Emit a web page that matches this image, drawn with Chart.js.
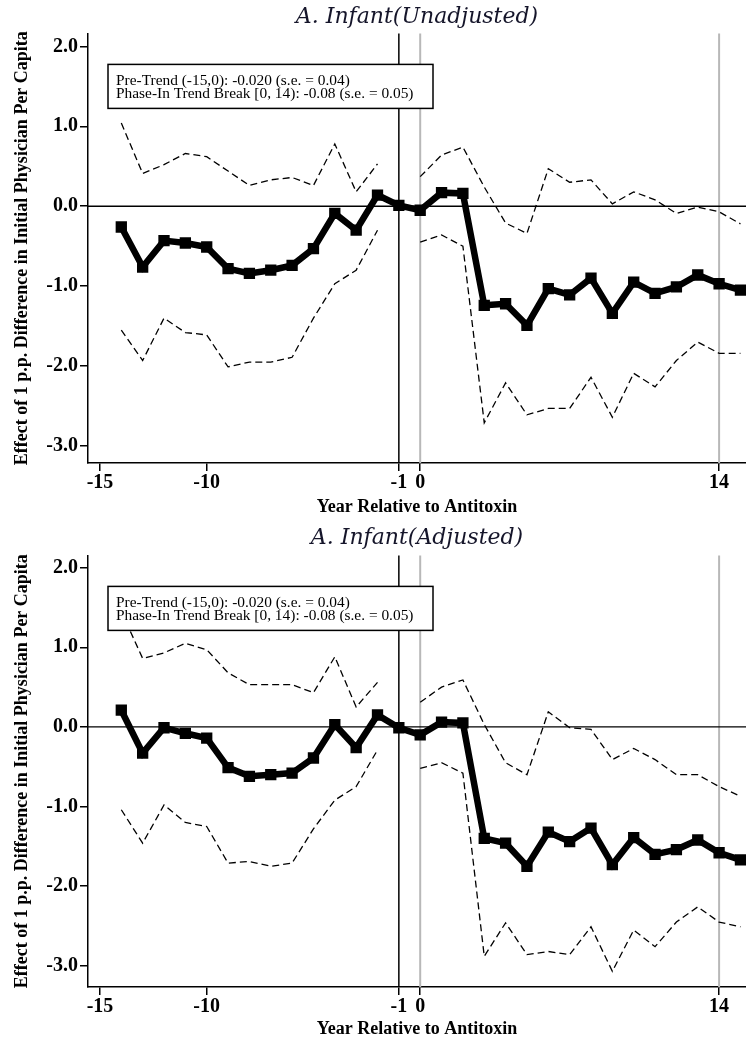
<!DOCTYPE html>
<html>
<head>
<meta charset="utf-8">
<title>Infant event study</title>
<script src="https://cdn.jsdelivr.net/npm/chart.js@4.4.1/dist/chart.umd.min.js"></script>
<style>
  body { margin: 0; background: #fff; }
  canvas { display: block; }
</style>
</head>
<body>
<canvas id="chartTop" width="746" height="520"></canvas>
<canvas id="chartBottom" width="746" height="520"></canvas>
<script>
// Years relative to antitoxin (x values of every series)
const years = [-14, -13, -12, -11, -10, -9, -8, -7, -6, -5, -4, -3, -2, -1, 0,
  1, 2, 3, 4, 5, 6, 7, 8, 9, 10, 11, 12, 13, 14, 15];
const xTicks = [-15, -10, -1, 0, 14];
const yTicks = [-3, -2, -1, 0, 1, 2];
const noteLines = [
  "Pre-Trend (-15,0): -0.020 (s.e. = 0.04)",
  "Phase-In Trend Break [0, 14): -0.08 (s.e. = 0.05)",
];

// A. Infant (Unadjusted)
const unadjEst = [-0.26, -0.76, -0.43, -0.46, -0.51, -0.78, -0.84, -0.8, -0.74, -0.53, -0.09, -0.3, 0.14, 0.01, -0.05,
  0.17, 0.16, -1.24, -1.22, -1.49, -1.03, -1.11, -0.9, -1.34, -0.95, -1.09, -1.01, -0.86, -0.97, -1.05];
const unadjUpper = [1.04, 0.41, 0.52, 0.66, 0.62, 0.44, 0.26, 0.33, 0.36, 0.26, 0.78, 0.18, 0.53, null, 0.37,
  0.64, 0.74, 0.24, -0.21, -0.34, 0.47, 0.3, 0.33, 0.03, 0.18, 0.08, -0.09, -0.01, -0.07, -0.22];
const unadjLower = [-1.55, -1.93, -1.4, -1.58, -1.61, -2.01, -1.95, -1.95, -1.89, -1.4, -0.97, -0.8, -0.3, null, -0.45,
  -0.36, -0.5, -2.71, -2.21, -2.61, -2.53, -2.53, -2.14, -2.64, -2.09, -2.26, -1.93, -1.7, -1.84, -1.84];

// A. Infant (Adjusted)
const adjEst = [0.21, -0.33, -0.01, -0.08, -0.14, -0.51, -0.62, -0.6, -0.58, -0.39, 0.03, -0.26, 0.15, -0.01, -0.1,
  0.06, 0.05, -1.4, -1.46, -1.75, -1.32, -1.44, -1.27, -1.73, -1.39, -1.6, -1.54, -1.42, -1.58, -1.67];
const adjUpper = [1.45, 0.86, 0.93, 1.05, 0.97, 0.68, 0.53, 0.53, 0.53, 0.43, 0.88, 0.25, 0.56, null, 0.31,
  0.5, 0.59, 0.03, -0.45, -0.6, 0.19, -0.01, -0.03, -0.41, -0.27, -0.41, -0.6, -0.6, -0.75, -0.87];
const adjLower = [-1.04, -1.46, -0.98, -1.2, -1.25, -1.71, -1.69, -1.75, -1.71, -1.28, -0.92, -0.75, -0.29, null, -0.52,
  -0.45, -0.58, -2.88, -2.46, -2.86, -2.82, -2.86, -2.51, -3.07, -2.55, -2.76, -2.45, -2.26, -2.45, -2.51];

function toPoints(values) {
  return years.map((yr, i) => ({ x: yr, y: values[i] }));
}

// zero line, event line at -1 and grey lines at 0 and 14
const refLines = {
  id: "refLines",
  beforeDatasetsDraw(chart) {
    const { ctx, chartArea, scales } = chart;
    const x = scales.x;
    const y = scales.y;
    ctx.save();
    ctx.strokeStyle = "#b8b8b8";
    ctx.lineWidth = 2;
    [0, 14].forEach((v) => {
      const px = x.getPixelForValue(v);
      ctx.beginPath();
      ctx.moveTo(px, chartArea.top);
      ctx.lineTo(px, chartArea.bottom);
      ctx.stroke();
    });
    ctx.strokeStyle = "#000";
    ctx.lineWidth = 1.5;
    const px = x.getPixelForValue(-1);
    ctx.beginPath();
    ctx.moveTo(px, chartArea.top);
    ctx.lineTo(px, chartArea.bottom);
    ctx.stroke();
    const py = y.getPixelForValue(0);
    ctx.lineWidth = 1.3;
    ctx.beginPath();
    ctx.moveTo(chartArea.left, py);
    ctx.lineTo(chartArea.right, py);
    ctx.stroke();
    ctx.restore();
  },
};

// box with trend estimates
const noteBox = {
  id: "noteBox",
  afterDatasetsDraw(chart) {
    const { ctx, chartArea } = chart;
    const left = chartArea.left + 20;
    const top = chartArea.top + 31;
    ctx.save();
    ctx.fillStyle = "#fff";
    ctx.fillRect(left, top, 325, 44);
    ctx.strokeStyle = "#000";
    ctx.lineWidth = 1.5;
    ctx.strokeRect(left, top, 325, 44);
    ctx.fillStyle = "#000";
    ctx.font = "15.4px 'Liberation Serif'";
    ctx.textBaseline = "middle";
    ctx.fillText(noteLines[0], left + 8, top + 17);
    ctx.fillText(noteLines[1], left + 8, top + 30);
    ctx.restore();
  },
};

function makeChart(id, title, est, upper, lower, opt) {
  const ctx = document.getElementById(id).getContext("2d");
  const ciStyle = {
    borderColor: "#000",
    borderWidth: 1.3,
    borderDash: [7, 4],
    pointRadius: 0,
    fill: false,
    spanGaps: false,
  };
  return new Chart(ctx, {
    type: "line",
    data: {
      datasets: [
        {
          label: "Estimate",
          data: toPoints(est),
          borderColor: "#000",
          borderWidth: 6.5,
          pointStyle: "rect",
          pointRadius: 8,
          pointBackgroundColor: "#000",
          pointBorderWidth: 0,
        },
        Object.assign({ label: "Upper", data: toPoints(upper) }, ciStyle),
        Object.assign({ label: "Lower", data: toPoints(lower) }, ciStyle),
      ],
    },
    options: {
      responsive: false,
      animation: false,
      layout: { padding: 0, autoPadding: false },
      plugins: {
        legend: { display: false },
        tooltip: { enabled: false },
        title: {
          display: true,
          text: title,
          fullSize: false,
          color: "#15152a",
          font: { family: "'DejaVu Serif'", size: 22, style: "italic", weight: "normal" },
          padding: { top: opt.titleTop, bottom: opt.titleTop - 1 },
        },
      },
      scales: {
        x: {
          type: "linear",
          min: -15.56,
          max: 15.26,
          afterBuildTicks: (scale) => {
            scale.ticks = xTicks.map((v) => ({ value: v }));
          },
          afterFit: (scale) => {
            scale.height = opt.xHeight;
            scale.paddingLeft = 0;
            scale.paddingRight = 0;
          },
          ticks: {
            autoSkip: false,
            maxRotation: 0,
            padding: 0,
            color: "#000",
            font: { family: "'Liberation Serif'", size: 20, weight: "bold" },
          },
          grid: {
            drawOnChartArea: false,
            drawTicks: true,
            tickLength: 8,
            color: "#000",
            lineWidth: 1.5,
          },
          border: { display: true, color: "#000", width: 1.5 },
          title: {
            display: true,
            text: "Year Relative to Antitoxin",
            color: "#000",
            font: { family: "'Liberation Serif'", size: 18, weight: "bold" },
            padding: { top: 0, bottom: opt.xTitlePad },
          },
        },
        y: {
          min: opt.yMin,
          max: opt.yMax,
          afterBuildTicks: (scale) => {
            scale.ticks = yTicks.map((v) => ({ value: v }));
          },
          afterFit: (scale) => {
            scale.width = 88;
            scale.paddingTop = 0;
            scale.paddingBottom = 0;
          },
          ticks: {
            padding: 2,
            color: "#000",
            font: { family: "'Liberation Serif'", size: 20, weight: "bold" },
            callback: (v) => v.toFixed(1),
          },
          grid: {
            drawOnChartArea: false,
            drawTicks: true,
            tickLength: 8,
            color: "#000",
            lineWidth: 1.5,
          },
          border: { display: true, color: "#000", width: 1.5 },
          title: {
            display: true,
            text: "Effect of 1 p.p. Difference in Initial Physician Per Capita",
            color: "#000",
            font: { family: "'Liberation Serif'", size: 18, weight: "bold" },
            padding: { top: 12, bottom: 0 },
          },
        },
      },
    },
    plugins: [refLines, noteBox],
  });
}

const topChart = makeChart("chartTop", "A. Infant(Unadjusted)", unadjEst, unadjUpper, unadjLower,
  { yMin: -3.2125, yMax: 2.1625, xHeight: 57, xTitlePad: 2, titleTop: 4 });
const bottomChart = makeChart("chartBottom", "A. Infant(Adjusted)", adjEst, adjUpper, adjLower,
  { yMin: -3.266, yMax: 2.154, xHeight: 53, xTitlePad: 0, titleTop: 5 });
</script>
</body>
</html>
